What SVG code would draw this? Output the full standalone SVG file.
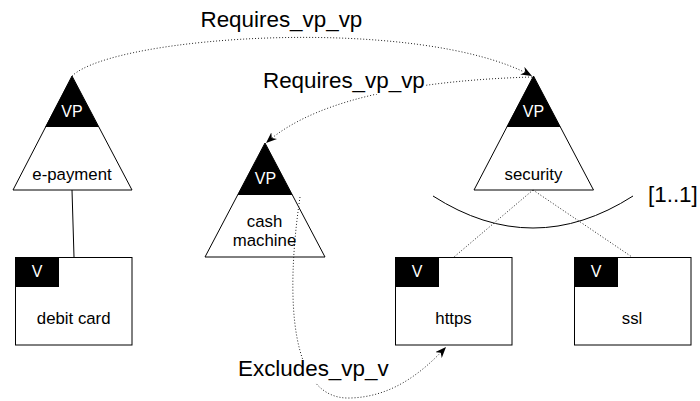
<svg xmlns="http://www.w3.org/2000/svg" width="700" height="401" viewBox="0 0 700 401">
<style>
text{font-family:"Liberation Sans",Arial,Helvetica,sans-serif;fill:#000}
.sm{font-size:16.8px;text-anchor:middle}
.big{font-size:22.4px}
.inv{fill:#fff;font-size:16px;text-anchor:middle}
.tri{fill:#fff;stroke:#000;stroke-width:1}
.box{fill:#fff;stroke:#000;stroke-width:1}
.dot{fill:none;stroke:#222;stroke-width:1;stroke-dasharray:1 2}
.solid{fill:none;stroke:#000;stroke-width:1}
</style>
<defs>
<marker id="arr" viewBox="0 0 10 8" refX="10" refY="4" markerWidth="11" markerHeight="9" markerUnits="userSpaceOnUse" orient="auto">
<path d="M0,0 L10,4 L0,8 L3,4 Z" fill="#000"/>
</marker>
</defs>
<g id="e-payment">
<path class="tri" d="M72,76 L132,190 L13,190 Z"/>
<path d="M72,76 L98.8,127 L45.2,127 Z" fill="#000"/>
<text class="inv" x="72" y="117">VP</text>
<text class="sm" x="72" y="180">e-payment</text>
</g>
<g id="cash-machine">
<path class="tri" d="M265,143 L325,257 L205,257 Z"/>
<path d="M265,143 L292.4,195 L237.6,195 Z" fill="#000"/>
<text class="inv" x="265.5" y="184">VP</text>
<text class="sm" x="264.5" y="226.5">cash</text>
<text class="sm" x="264.5" y="245.5">machine</text>
</g>
<g id="security">
<path class="tri" d="M533.5,76 L593.5,190 L474,190 Z"/>
<path d="M533.5,76 L560.4,127 L506.6,127 Z" fill="#000"/>
<text class="inv" x="533.5" y="117">VP</text>
<text class="sm" x="533.5" y="180">security</text>
</g>
<g id="debit-card">
<rect class="box" x="15.5" y="257.5" width="116.5" height="87.5"/>
<rect x="15.5" y="257.5" width="43.5" height="29.5" fill="#000"/>
<text class="inv" x="37" y="277">V</text>
<text class="sm" x="73.7" y="323.5">debit card</text>
</g>
<g id="https">
<rect class="box" x="395.5" y="257.5" width="116.5" height="87.5"/>
<rect x="395.5" y="257.5" width="43.5" height="29.5" fill="#000"/>
<text class="inv" x="417" y="277">V</text>
<text class="sm" x="453.5" y="323.5">https</text>
</g>
<g id="ssl">
<rect class="box" x="574.5" y="257.5" width="116.5" height="87.5"/>
<rect x="574.5" y="257.5" width="43.5" height="29.5" fill="#000"/>
<text class="inv" x="596" y="277">V</text>
<text class="sm" x="632" y="323.5">ssl</text>
</g>
<g id="connectors">
<path class="solid" d="M72,190 L74,257"/>
<path class="dot" d="M533,190 L454,257"/>
<path class="dot" d="M533,190 L632,257"/>
<path class="solid" d="M433,196 Q533,260 633,196"/>
<path class="dot" d="M72,76 C115,35 420,15 532,76" marker-end="url(#arr)"/>
<path class="dot" d="M532,77 C430,80 320,95 266,143" marker-end="url(#arr)"/>
<path class="dot" d="M300,197 C285,300 290,400 350,398 C390,397 420,375 446,347" marker-end="url(#arr)"/>
<text class="big" x="200.5" y="27">Requires_vp_vp</text>
<rect x="262" y="70" width="164" height="24" fill="#fff"/>
<text class="big" x="263" y="88">Requires_vp_vp</text>
<rect x="237" y="359" width="152" height="24" fill="#fff"/>
<text class="big" x="238" y="376">Excludes_vp_v</text>
<text class="big" x="648" y="202">[1..1]</text>
</g>
</svg>
